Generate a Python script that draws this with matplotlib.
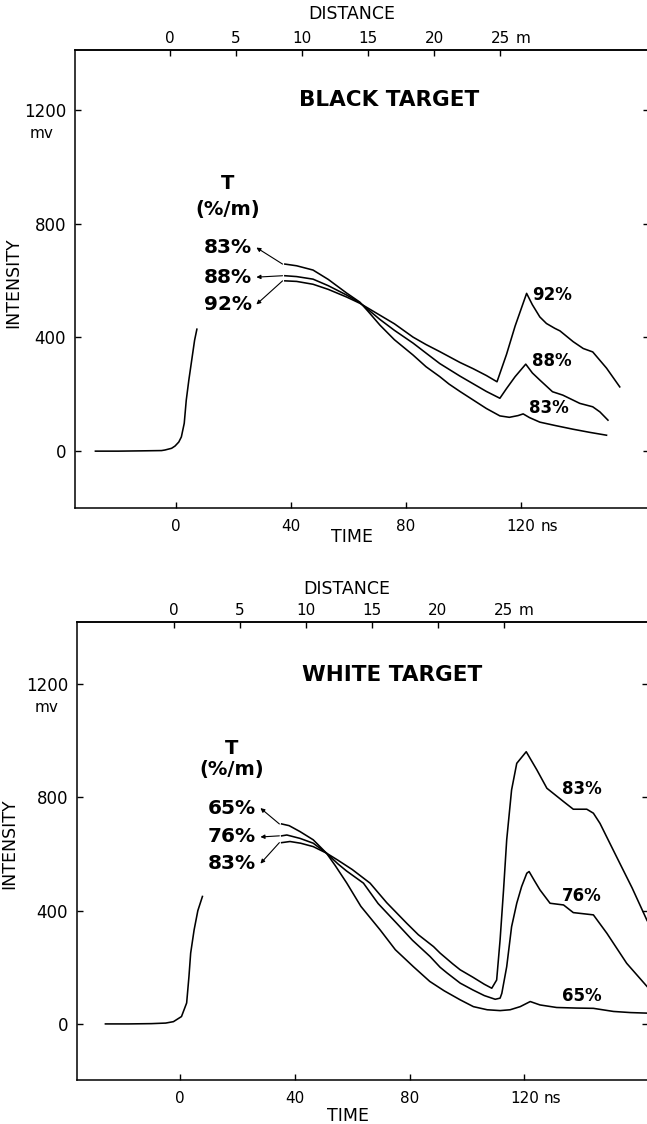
import matplotlib
matplotlib.use('Agg')
import matplotlib.pyplot as plt
from matplotlib import transforms

# time (ns) on the bottom axis, distance (m) on the top axis
T0 = -2.2
NS_PER_M = 4.6


def t_to_d(t):
    return (t - T0) / NS_PER_M


def d_to_t(d):
    return T0 + d * NS_PER_M


time_ticks = [0, 40, 80, 120]
time_labels = ['0', '40', '80', '120']
dist_ticks = [0, 5, 10, 15, 20, 25]
dist_labels = ['0', '5', '10', '15', '20', '25']
mv_ticks = [0, 400, 800, 1200]
mv_labels = ['0', '400', '800', '1200']

# ---- black target ----
black_rise_t = [-28, -20, -12, -5, -3.8, -1.5, -0.3, 1.0, 1.9, 2.9, 3.6, 4.5, 5.5, 6.5, 7.3]
black_rise_v = [0, 0, 1, 2, 4, 10, 18, 32, 50, 98, 179, 250, 320, 390, 429]

black_83_t = [37.9, 42, 47.7, 53, 59.4, 64, 67, 71, 76, 82.5, 87, 91.8, 95, 98.8, 103.4,
              108, 112.7, 116, 119, 120.8, 123, 126.6, 132, 138.2, 144, 149.8]
black_83_v = [658, 652, 637, 604, 556, 524, 490, 443, 392, 338, 297, 262, 236, 210, 180,
              150, 124, 119, 125, 131, 118, 102, 90, 77, 66, 56]

black_88_t = [37.9, 42, 47.7, 53, 59.4, 64, 71, 76, 82.5, 87, 91.8, 98.8, 103.4, 108,
              112.7, 115, 118, 121.7, 124, 126.6, 131, 134.6, 140.5, 145, 147.5, 150.3]
black_88_v = [617, 614, 605, 582, 549, 522, 463, 425, 380, 345, 308, 264, 237, 210,
              186, 220, 262, 306, 275, 250, 209, 197, 168, 156, 138, 109]

black_92_t = [37.9, 42, 47.7, 53, 59.4, 64, 71, 76, 82.5, 87, 91.8, 98.8, 103.4, 108,
              111.7, 115, 118, 122, 124, 126.6, 128.9, 131.8, 133.6, 138.2, 141.7, 145,
              149.8, 154.4]
black_92_v = [599, 597, 587, 569, 542, 520, 478, 448, 401, 375, 350, 312, 290, 266,
              244, 340, 440, 555, 515, 472, 449, 432, 423, 385, 361, 349,
              292, 226]

# ---- white target ----
white_rise_t = [-26, -18, -10, -5, -2.3, 0.5, 2.3, 3.1, 3.7, 4.9, 6.2, 7.8]
white_rise_v = [0, 0, 1, 3, 8, 26, 74, 167, 250, 332, 400, 450]

white_65_t = [35.4, 38, 41.8, 46.4, 51, 54, 58.1, 63, 69.7, 75, 81.3, 87, 92, 97.6,
              102.2, 107, 111.5, 115, 118.5, 122, 125.4, 131.2, 138, 144, 151, 157, 163]
white_65_v = [706, 700, 679, 650, 603, 560, 497, 415, 332, 262, 202, 150, 117, 85,
              61, 50, 47, 50, 61, 79, 67, 58, 56, 55, 44, 40, 38]

white_76_t = [35.4, 37.2, 41.8, 46.4, 51, 55, 58, 63.9, 69, 75.5, 81, 87.1, 90.6, 93,
              97.6, 102, 106, 109.8, 111.5, 112.1, 113.8, 115.5, 117.3, 119, 120.8,
              121.6, 123.5, 125.4, 128.9, 133.6, 137, 144, 148.7, 155.6, 162.7]
white_76_v = [664, 667, 655, 638, 603, 565, 540, 497, 425, 355, 295, 238, 200, 180,
              144, 120, 100, 87, 91, 108, 202, 343, 426, 485, 532,
              538, 505, 473, 426, 420, 393, 385, 320, 214, 132]

white_83_t = [35.4, 38.3, 42, 46.4, 51, 55, 60, 66.2, 72, 79, 83, 88.3, 90.6, 95,
              97.6, 102, 106, 108.6, 110.3, 111.5, 112.7, 113.8, 115.5, 117.3, 120.6,
              124.3, 127.8, 133.6, 137, 141.7, 144, 146.3, 150.9, 153.8, 157.5, 162.7]
white_83_v = [640, 644, 638, 626, 603, 578, 545, 497, 428, 355, 315, 273, 250, 212,
              191, 165, 140, 126, 155, 297, 473, 650, 826, 920, 961,
              897, 832, 785, 758, 758, 744, 708, 614, 555, 480, 365]

LINE = dict(color='black', lw=1.15, solid_joinstyle='round')


def draw_panel(ax, xlim, ylim, title, title_v, rise, curves, peak_names, peak_pos,
               left_names, left_v, time_y, dist_xy, ylabel_xy, mv_x):
    ax.set_xlim(*xlim)
    ax.set_ylim(*ylim)

    ax.plot(rise[0], rise[1], **LINE)
    for t, v in curves:
        ax.plot(t, v, **LINE)

    # labels at the echo peaks
    for name, (pt, pv) in zip(peak_names, peak_pos):
        ax.text(pt, pv, name, ha='center', va='center', fontsize=12, fontweight='bold')

    # attenuation key with leader arrows
    ax.text(18, left_v[0], 'T', ha='center', va='center', fontsize=14, fontweight='bold')
    ax.text(18, left_v[1], '(%/m)', ha='center', va='center', fontsize=14, fontweight='bold')
    for name, lv, (t, v) in zip(left_names, left_v[2:], curves):
        ax.text(18, lv, name, ha='center', va='center', fontsize=14.5, fontweight='bold')
        ax.annotate('', xy=(28.0, lv), xytext=(t[0] - 0.8, v[0]),
                    arrowprops=dict(arrowstyle='-|>', lw=0.8, color='black',
                                    mutation_scale=6, shrinkA=0, shrinkB=0))

    ax.text(74, title_v, title, ha='center', va='center', fontsize=15.5, fontweight='bold')

    for s in ax.spines.values():
        s.set_linewidth(1.1)
    ax.set_xticks(time_ticks, time_labels)
    ax.set_yticks(mv_ticks, mv_labels)
    ax.tick_params(axis='both', direction='in', length=4.5, width=1.0, colors='black')
    ax.tick_params(axis='x', pad=8, labelsize=11, top=False)
    ax.tick_params(axis='y', pad=6.5, labelsize=12, right=True, labelright=False)

    ax.annotate('ns', xy=(120, 0), xycoords=('data', 'axes fraction'),
                xytext=(14, -8), textcoords='offset points',
                ha='left', va='top', fontsize=11)
    ax.text(*time_y, 'TIME', transform=ax.transAxes, ha='center', va='center', fontsize=12.5)

    secax = ax.secondary_xaxis('top', functions=(t_to_d, d_to_t))
    secax.set_xticks(dist_ticks, dist_labels)
    secax.tick_params(direction='in', length=4.5, width=1.0, pad=3, labelsize=11)
    secax.spines['top'].set_linewidth(1.1)
    ax.annotate('m', xy=(d_to_t(25), 1), xycoords=('data', 'axes fraction'),
                xytext=(11, 3), textcoords='offset points',
                ha='left', va='bottom', fontsize=11)
    ax.text(*dist_xy, 'DISTANCE', transform=ax.transAxes, ha='center', va='center',
            fontsize=12.5)

    ax.set_ylabel('INTENSITY', fontsize=12.5)
    ax.yaxis.set_label_coords(*ylabel_xy)
    # unit written under the top tick label
    blend = transforms.blended_transform_factory(ax.transAxes, ax.transData)
    ax.text(mv_x, 1118, 'mv', transform=blend, ha='center', va='center', fontsize=11)


fig = plt.figure(figsize=(6.47, 11.24), dpi=100)
ax_top = fig.add_axes([75 / 647, 1 - 508 / 1124, 573.5 / 647, 458 / 1124])
ax_bot = fig.add_axes([77 / 647, 1 - 1080 / 1124, 571.5 / 647, 458 / 1124])

draw_panel(ax_top, (-35.1, 164.4), (-200, 1411), 'BLACK TARGET', 1235,
           (black_rise_t, black_rise_v),
           [(black_83_t, black_83_v), (black_88_t, black_88_v), (black_92_t, black_92_v)],
           ['92%', '88%', '83%'], [(130.8, 549), (130.8, 317), (129.7, 151)],
           ['83%', '88%', '92%'], [943, 851, 716, 612, 516],
           (0.483, -0.063), (0.483, 1.079), (-0.092, 0.493), -0.0575)

draw_panel(ax_bot, (-35.9, 163.2), (-198, 1419), 'WHITE TARGET', 1232,
           (white_rise_t, white_rise_v),
           [(white_65_t, white_65_v), (white_76_t, white_76_v), (white_83_t, white_83_v)],
           ['83%', '76%', '65%'], [(140, 830), (140, 452), (140, 99)],
           ['65%', '76%', '83%'], [971, 900, 762, 660, 566],
           (0.475, -0.079), (0.472, 1.072), (-0.103, 0.515), -0.054)

fig.savefig('out.png', dpi=100, facecolor='white')
